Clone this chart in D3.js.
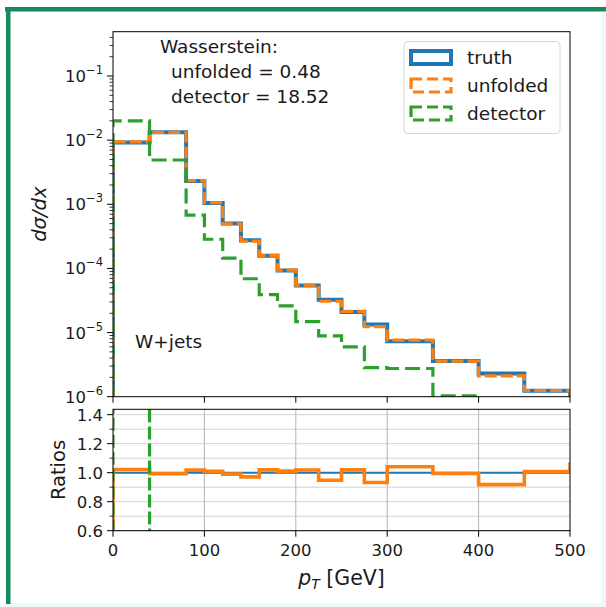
<!DOCTYPE html>
<html><head><meta charset="utf-8">
<script src="https://cdn.jsdelivr.net/npm/d3@7"></script>
<style>
body{margin:0;background:#fff;}
text{font-family:"DejaVu Sans",sans-serif;fill:#1a1a1a;}
</style>
</head><body>
<svg id="c" width="606" height="607"></svg>
<script>
// ---------- data ----------
const binEdges = [0, 40, 80, 100, 120, 140, 160, 180, 200, 225, 250, 275, 300, 350, 400, 450, 500];
const truthValues = [9.2e-3, 1.33e-2, 2.3e-3, 1.05e-3, 5.0e-4, 2.75e-4, 1.57e-4, 9.3e-5, 5.4e-5, 3.25e-5, 2.1e-5, 1.33e-5, 7.3e-6, 3.6e-6, 2.3e-6, 1.24e-6];
const unfoldedValues = [9.4e-3, 1.32e-2, 2.34e-3, 1.06e-3, 4.95e-4, 2.67e-4, 1.6e-4, 9.4e-5, 5.5e-5, 3.08e-5, 2.14e-5, 1.24e-5, 7.6e-6, 3.58e-6, 2.11e-6, 1.25e-6];
const detectorValues = [2.0e-2, 4.9e-3, 6.8e-4, 2.85e-4, 1.45e-4, 6.9e-5, 3.9e-5, 2.6e-5, 1.48e-5, 8.9e-6, 6.0e-6, 2.85e-6, 2.75e-6, 1.03e-6, 0, 0];
const unfoldedRatioEnd = 1.07;
const xTickValues = [0, 100, 200, 300, 400, 500];
const xGridValues = [100, 200, 300, 400];
const logTickExponents = [-1, -2, -3, -4, -5, -6];
const ratioTickValues = [0.6, 0.8, 1.0, 1.2, 1.4];
const ratioMinorValues = [0.7, 0.9, 1.1, 1.3];
const ratioGridValues = [0.6, 0.7, 0.8, 0.9, 1.0, 1.1, 1.2, 1.3, 1.4];
const legendLabels = ["truth", "unfolded", "detector"];
const wassersteinLines = ["Wasserstein:", "unfolded = 0.48", "detector = 18.52"];
const processLabel = "W+jets";

// ---------- layout ----------
const C = {blue: "#1f77b4", orange: "#ff7f0e", green: "#2ca02c"};
const L = 113, R = 570;
const mainTop = 31.7, mainBot = 396.7;
const ratTop = 409.3, ratBot = 530.7;

const svg = d3.select("#c");

// frame / border
svg.append("rect").attr("x", 5).attr("y", 7).attr("width", 601).attr("height", 600).attr("fill", "#eef9f3");
svg.append("rect").attr("x", 10).attr("y", 11).attr("width", 592).attr("height", 592).attr("fill", "#ffffff");
svg.append("rect").attr("x", 5).attr("y", 7).attr("width", 601).attr("height", 4.5).attr("fill", "#178a5c");
svg.append("rect").attr("x", 6).attr("y", 7).attr("width", 4.5).attr("height", 597).attr("fill", "#178a5c");

const x = d3.scaleLinear().domain([0, 500]).range([L, R]);
const y = d3.scaleLog().domain([1e-6, Math.pow(10, -0.309)]).range([mainBot, mainTop]);
const yr = d3.scaleLinear().domain([0.6, 1.437]).range([ratBot, ratTop]);

const defs = svg.append("defs");
defs.append("clipPath").attr("id", "clipMain").append("rect")
  .attr("x", L).attr("y", mainTop).attr("width", R - L).attr("height", mainBot - mainTop);
defs.append("clipPath").attr("id", "clipRat").append("rect")
  .attr("x", L).attr("y", ratTop).attr("width", R - L).attr("height", ratBot - ratTop);

function stepPoints(edges, vals, start, end) {
  const pts = [[edges[0], start]];
  vals.forEach((v, i) => { pts.push([edges[i], v]); pts.push([edges[i + 1], v]); });
  pts.push([edges[edges.length - 1], end]);
  return pts;
}
const tiny = 1e-9;
const safe = v => (v > 0 ? v : tiny);

// ---------- main panel ----------
const gMain = svg.append("g").attr("clip-path", "url(#clipMain)");
const lineMain = d3.line().x(d => x(d[0])).y(d => y(safe(d[1])));

gMain.append("path").attr("d", lineMain(stepPoints(binEdges, truthValues, tiny, tiny)))
  .attr("fill", "none").attr("stroke", C.blue).attr("stroke-width", 4).attr("stroke-linejoin", "miter");
gMain.append("path").attr("d", lineMain(stepPoints(binEdges, unfoldedValues, tiny, tiny)))
  .attr("fill", "none").attr("stroke", C.orange).attr("stroke-width", 3.2).attr("stroke-dasharray", "12,4").attr("stroke-linejoin", "miter");
gMain.append("path").attr("d", lineMain(stepPoints(binEdges, detectorValues.map(safe), tiny, tiny)))
  .attr("fill", "none").attr("stroke", C.green).attr("stroke-width", 3.2).attr("stroke-dasharray", "15,6").attr("stroke-linejoin", "miter");

// main frame
svg.append("rect").attr("x", L).attr("y", mainTop).attr("width", R - L).attr("height", mainBot - mainTop)
  .attr("fill", "none").attr("stroke", "#000").attr("stroke-width", 1);

// main y ticks (log)
const gY = svg.append("g");
logTickExponents.forEach(e => {
  const yy = y(Math.pow(10, e));
  gY.append("line").attr("x1", L - 6).attr("x2", L).attr("y1", yy).attr("y2", yy).attr("stroke", "#000").attr("stroke-width", 1);
  const t = gY.append("text").attr("x", L - 10).attr("y", yy + 6).attr("text-anchor", "end").attr("font-size", 16.5);
  t.append("tspan").text("10");
  t.append("tspan").attr("dy", -8).attr("font-size", 11.5).text("\u2212" + Math.abs(e));
});
for (let e = -6; e <= 0; e++) {
  for (let m = 2; m <= 9; m++) {
    const v = m * Math.pow(10, e);
    if (v > y.domain()[1]) continue;
    const yy = y(v);
    gY.append("line").attr("x1", L - 3.5).attr("x2", L).attr("y1", yy).attr("y2", yy).attr("stroke", "#000").attr("stroke-width", 0.8);
  }
}
// main x ticks
xTickValues.forEach(v => {
  svg.append("line").attr("x1", x(v)).attr("x2", x(v)).attr("y1", mainBot).attr("y2", mainBot + 6).attr("stroke", "#000").attr("stroke-width", 1);
});

// Wasserstein text
wassersteinLines.forEach((s, i) => {
  svg.append("text").attr("x", i === 0 ? 160 : 171).attr("y", 53 + i * 25).attr("font-size", 18.5).text(s);
});
svg.append("text").attr("x", 135).attr("y", 348).attr("font-size", 18.5).text(processLabel);

// legend
const lg = svg.append("g");
lg.append("rect").attr("x", 404).attr("y", 41.5).attr("width", 156).attr("height", 92).attr("rx", 4)
  .attr("fill", "#fff").attr("fill-opacity", 0.8).attr("stroke", "#d6d6d6").attr("stroke-width", 1);
const legStyles = [
  {c: C.blue, w: 4, dash: null},
  {c: C.orange, w: 3.2, dash: "11,5"},
  {c: C.green, w: 3.2, dash: "11,5"}
];
legendLabels.forEach((lab, i) => {
  const cy = 57.5 + i * 28;
  const st = legStyles[i];
  const r = lg.append("rect").attr("x", 411).attr("y", cy - 6.5).attr("width", 40).attr("height", 13)
    .attr("fill", "none").attr("stroke", st.c).attr("stroke-width", st.w);
  if (st.dash) r.attr("stroke-dasharray", st.dash);
  lg.append("text").attr("x", 467).attr("y", cy + 6.5).attr("font-size", 18.5).text(lab);
});

// y label main
svg.append("text").attr("transform", `translate(46,${(mainTop + mainBot) / 2}) rotate(-90)`)
  .attr("text-anchor", "middle").attr("font-size", 19.5).attr("font-style", "italic").text("d\u03c3/dx");

// ---------- ratio panel ----------
const gR = svg.append("g");
ratioGridValues.forEach(v => {
  gR.append("line").attr("x1", L).attr("x2", R).attr("y1", yr(v)).attr("y2", yr(v)).attr("stroke", "#d2d2d2").attr("stroke-width", 1);
});
xGridValues.forEach(v => {
  gR.append("line").attr("x1", x(v)).attr("x2", x(v)).attr("y1", ratTop).attr("y2", ratBot).attr("stroke", "#b4b4b4").attr("stroke-width", 1);
});
const gRc = svg.append("g").attr("clip-path", "url(#clipRat)");
const lineR = d3.line().x(d => x(d[0])).y(d => yr(d[1]));
const truthRatio = truthValues.map((v, i) => v / truthValues[i]);
const unfoldedRatio = unfoldedValues.map((v, i) => v / truthValues[i]);
const detectorRatio = detectorValues.map((v, i) => v / truthValues[i]);
gRc.append("path").attr("d", lineR(stepPoints(binEdges, truthRatio, 0, 1)))
  .attr("fill", "none").attr("stroke", C.blue).attr("stroke-width", 2);
gRc.append("path").attr("d", lineR(stepPoints(binEdges, unfoldedRatio, 0, unfoldedRatioEnd)))
  .attr("fill", "none").attr("stroke", C.orange).attr("stroke-width", 3.6).attr("stroke-linejoin", "miter");
gRc.append("path").attr("d", lineR(stepPoints(binEdges, detectorRatio, 0, 0)))
  .attr("fill", "none").attr("stroke", C.green).attr("stroke-width", 3.2).attr("stroke-dasharray", "13,4");

svg.append("rect").attr("x", L).attr("y", ratTop).attr("width", R - L).attr("height", ratBot - ratTop)
  .attr("fill", "none").attr("stroke", "#000").attr("stroke-width", 1);

ratioTickValues.forEach(v => {
  svg.append("line").attr("x1", L - 6).attr("x2", L).attr("y1", yr(v)).attr("y2", yr(v)).attr("stroke", "#000").attr("stroke-width", 1);
  svg.append("text").attr("x", L - 10).attr("y", yr(v) + 6).attr("text-anchor", "end").attr("font-size", 16.5).text(v.toFixed(1));
});
ratioMinorValues.forEach(v => {
  svg.append("line").attr("x1", L - 3.5).attr("x2", L).attr("y1", yr(v)).attr("y2", yr(v)).attr("stroke", "#000").attr("stroke-width", 0.8);
});
xTickValues.forEach(v => {
  svg.append("line").attr("x1", x(v)).attr("x2", x(v)).attr("y1", ratBot).attr("y2", ratBot + 6).attr("stroke", "#000").attr("stroke-width", 1);
  svg.append("text").attr("x", x(v)).attr("y", ratBot + 25).attr("text-anchor", "middle").attr("font-size", 16.5).text(v);
});

svg.append("text").attr("transform", `translate(65,${(ratTop + ratBot) / 2}) rotate(-90)`)
  .attr("text-anchor", "middle").attr("font-size", 19.5).text("Ratios");

const xl = svg.append("text").attr("x", (L + R) / 2).attr("y", 585).attr("text-anchor", "middle").attr("font-size", 20.5);
xl.append("tspan").attr("font-style", "italic").text("p");
xl.append("tspan").attr("font-style", "italic").attr("font-size", 14).attr("dy", 4).text("T");
xl.append("tspan").attr("dy", -4).text(" [GeV]");
</script>
</body></html>
